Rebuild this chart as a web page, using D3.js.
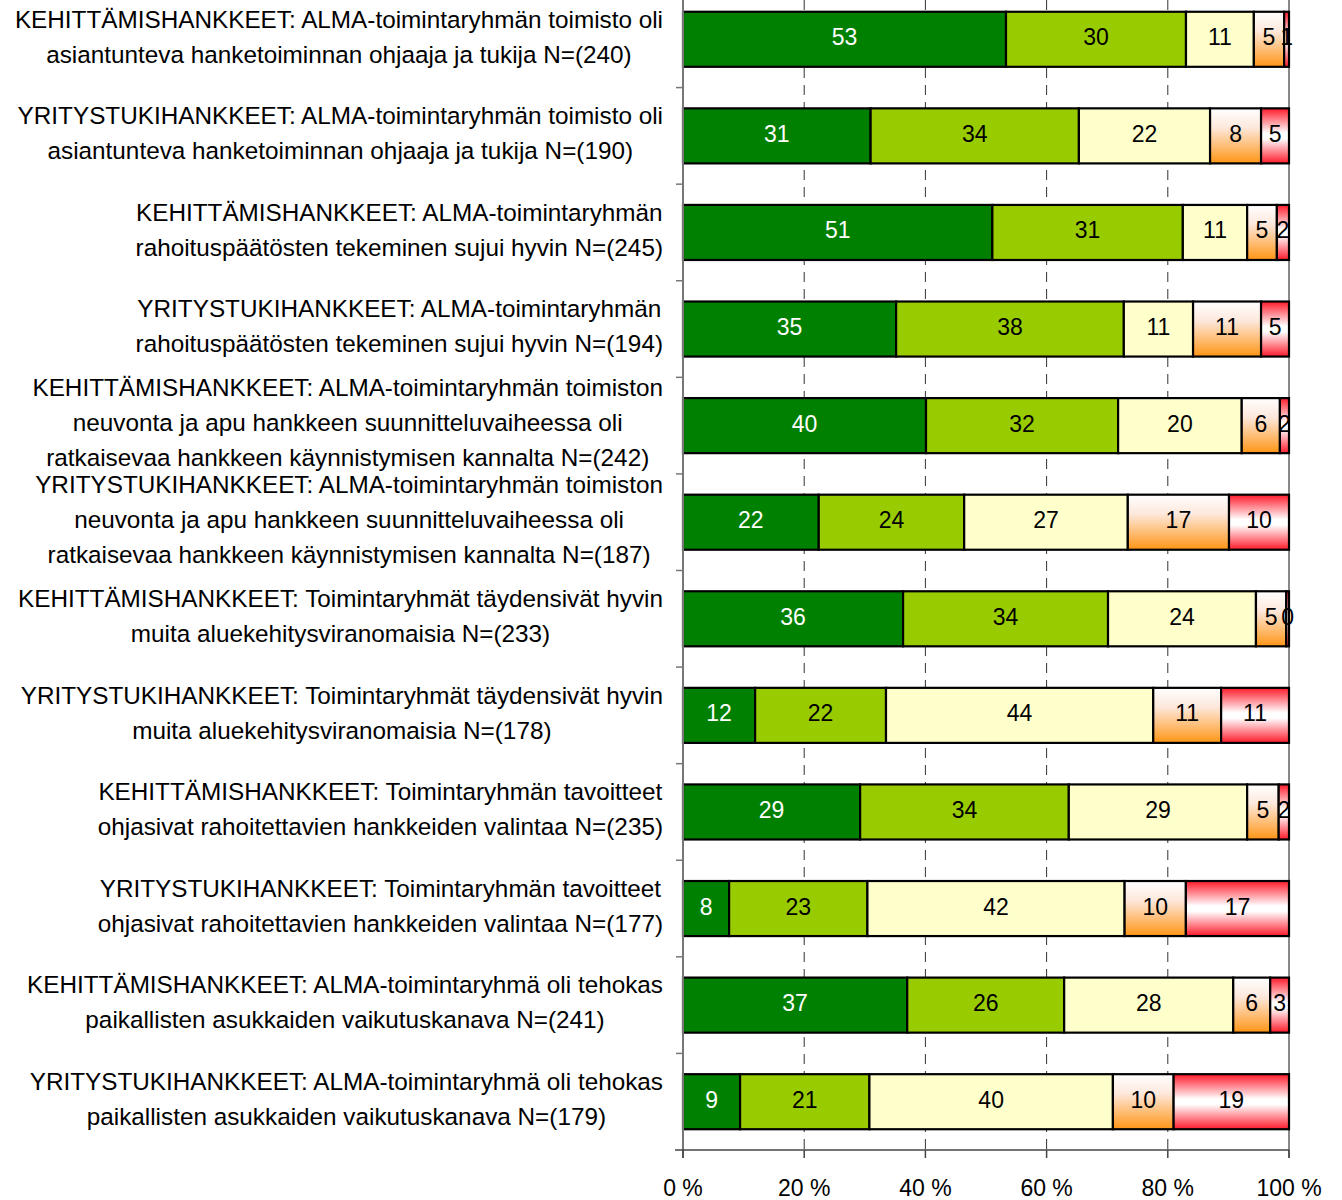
<!DOCTYPE html>
<html><head><meta charset="utf-8">
<script src="https://cdn.jsdelivr.net/npm/d3@7"></script>
<style>body{margin:0;background:#fff}svg{display:block}</style>
</head><body><svg id="c" width="1342" height="1200"></svg>
<script>
const categories = [
 "KEHITTÄMISHANKKEET: ALMA-toimintaryhmän toimisto oli\nasiantunteva hanketoiminnan ohjaaja ja tukija N=(240)",
 "YRITYSTUKIHANKKEET: ALMA-toimintaryhmän toimisto oli\nasiantunteva hanketoiminnan ohjaaja ja tukija N=(190)",
 "KEHITTÄMISHANKKEET: ALMA-toimintaryhmän\nrahoituspäätösten tekeminen sujui hyvin N=(245)",
 "YRITYSTUKIHANKKEET: ALMA-toimintaryhmän\nrahoituspäätösten tekeminen sujui hyvin N=(194)",
 "KEHITTÄMISHANKKEET: ALMA-toimintaryhmän toimiston\nneuvonta ja apu hankkeen suunnitteluvaiheessa oli\nratkaisevaa hankkeen käynnistymisen kannalta N=(242)",
 "YRITYSTUKIHANKKEET: ALMA-toimintaryhmän toimiston\nneuvonta ja apu hankkeen suunnitteluvaiheessa oli\nratkaisevaa hankkeen käynnistymisen kannalta N=(187)",
 "KEHITTÄMISHANKKEET: Toimintaryhmät täydensivät hyvin\nmuita aluekehitysviranomaisia N=(233)",
 "YRITYSTUKIHANKKEET: Toimintaryhmät täydensivät hyvin\nmuita aluekehitysviranomaisia N=(178)",
 "KEHITTÄMISHANKKEET: Toimintaryhmän tavoitteet\nohjasivat rahoitettavien hankkeiden valintaa N=(235)",
 "YRITYSTUKIHANKKEET: Toimintaryhmän tavoitteet\nohjasivat rahoitettavien hankkeiden valintaa N=(177)",
 "KEHITTÄMISHANKKEET: ALMA-toimintaryhmä oli tehokas\npaikallisten asukkaiden vaikutuskanava N=(241)",
 "YRITYSTUKIHANKKEET: ALMA-toimintaryhmä oli tehokas\npaikallisten asukkaiden vaikutuskanava N=(179)"
];
// five answer classes, strongly agree -> strongly disagree
const seriesNames = ["Täysin samaa mieltä","Jokseenkin samaa mieltä","Ei samaa eikä eri mieltä","Jokseenkin eri mieltä","Täysin eri mieltä"];
const s1 = [53.3, 30.9, 51.0, 35.1, 40.1, 22.4, 36.3, 11.9, 29.2, 7.6, 37.0, 9.4];
const s2 = [29.7, 34.3, 31.4, 37.5, 31.7, 24.0, 33.8, 21.6, 34.4, 22.8, 25.9, 21.3];
const s3 = [11.2, 21.6, 10.6, 11.4, 20.4, 27.0, 24.4, 44.1, 29.4, 42.4, 27.9, 40.1];
const s4 = [5.0, 8.4, 4.9, 11.2, 6.3, 16.7, 5.0, 11.2, 5.2, 10.1, 6.1, 10.0];
const s5 = [0.8, 4.6, 2.0, 4.6, 1.5, 9.9, 0.45, 11.2, 1.7, 17.0, 3.1, 19.0];
const xTicks = [0, 20, 40, 60, 80, 100];

const svg = d3.select("#c");
const defs = svg.append("defs");
const gO = defs.append("linearGradient").attr("id","gOrange").attr("x1",0).attr("y1",0).attr("x2",0).attr("y2",1);
gO.append("stop").attr("offset","0%").attr("stop-color","#ffffff");
gO.append("stop").attr("offset","35%").attr("stop-color","#fde8dc");
gO.append("stop").attr("offset","100%").attr("stop-color","#ff9515");
const gR = defs.append("linearGradient").attr("id","gRed").attr("x1",0).attr("y1",0).attr("x2",0).attr("y2",1);
gR.append("stop").attr("offset","0%").attr("stop-color","#ff1a2a");
gR.append("stop").attr("offset","45%").attr("stop-color","#ffffff");
gR.append("stop").attr("offset","55%").attr("stop-color","#ffffff");
gR.append("stop").attr("offset","100%").attr("stop-color","#ff1a2a");
const fills = ["#008000","#99cc00","#ffffcc","url(#gOrange)","url(#gRed)"];
const textFill = ["#ffffff","#000","#000","#000","#000"];

const x0 = 683, x1 = 1289, yTop = -9, yBot = 1150;
const x = d3.scaleLinear().domain([0,100]).range([x0,x1]);
const y = d3.scaleBand().domain(d3.range(categories.length)).range([yTop,yBot]).paddingInner(0.43).paddingOuter(0.215);

const series = [s1,s2,s3,s4,s5];
const rows = categories.map((c,i)=>{
  const vals = series.map(s=>s[i]);
  const tot = d3.sum(vals);
  let acc = 0;
  return vals.map((v,k)=>{ const p = v/tot*100; const r={i,k,v,a:acc,b:acc+p}; acc+=p; return r;});
});

// gridlines
svg.append("g").selectAll("line").data(xTicks.filter(t=>t>0&&t<100)).join("line")
  .attr("x1",d=>x(d)).attr("x2",d=>x(d)).attr("y1",0).attr("y2",yBot)
  .attr("stroke","#333").attr("stroke-width",1).attr("stroke-dasharray","10,7");
svg.append("line").attr("x1",x(100)).attr("x2",x(100)).attr("y1",0).attr("y2",yBot+8)
  .attr("stroke","#888").attr("stroke-width",2);

// bars
const g = svg.append("g");
rows.forEach(r=>{
  g.selectAll(null).data(r).join("rect")
    .attr("x",d=>x(d.a)).attr("width",d=>x(d.b)-x(d.a))
    .attr("y",d=>y(d.i)).attr("height",y.bandwidth())
    .attr("fill",d=>fills[d.k]).attr("stroke","#000").attr("stroke-width",2.2);
});
rows.forEach(r=>{
  g.selectAll(null).data(r).join("text")
    .attr("x",d=>(x(d.a)+x(d.b))/2).attr("y",d=>y(d.i)+y.bandwidth()/2)
    .attr("dy","0.26em").attr("text-anchor","middle")
    .attr("font-family","Liberation Sans, Arial, sans-serif").attr("font-size",23)
    .attr("fill",d=>textFill[d.k]).text(d=>Math.round(d.v));
});

// y axis
svg.append("line").attr("x1",x0).attr("x2",x0).attr("y1",0).attr("y2",yBot+8).attr("stroke","#777").attr("stroke-width",2);
svg.append("g").selectAll("line").data(d3.range(1,categories.length)).join("line")
  .attr("x1",x0-7).attr("x2",x0).attr("y1",d=>y(d)-y.step()*y.paddingInner()/2).attr("y2",d=>y(d)-y.step()*y.paddingInner()/2)
  .attr("stroke","#777").attr("stroke-width",1.5);
// x axis
svg.append("line").attr("x1",x0-8).attr("x2",x1).attr("y1",yBot).attr("y2",yBot).attr("stroke","#444").attr("stroke-width",1.5);
svg.append("g").selectAll("line").data(xTicks).join("line")
  .attr("x1",d=>x(d)).attr("x2",d=>x(d)).attr("y1",yBot).attr("y2",yBot+8).attr("stroke","#444").attr("stroke-width",1.5);
svg.append("g").selectAll("text").data(xTicks).join("text")
  .attr("x",d=>x(d)).attr("y",1196).attr("text-anchor","middle")
  .attr("font-family","Liberation Sans, Arial, sans-serif").attr("font-size",23).attr("fill","#000")
  .text(d=>d+" %");

// category labels: block right aligned at 663, lines centered within block
const lg = svg.append("g").attr("font-family","Liberation Sans, Arial, sans-serif").attr("font-size",24.3).attr("fill","#000");
categories.forEach((c,i)=>{
  const lines = c.split("\n");
  const lh = 35;
  const cy = y(i)+y.bandwidth()/2 - 1.5;
  const ts = lines.map((l,j)=>lg.append("text").attr("y",cy+(j-(lines.length-1)/2)*lh).attr("dy","0.3em").attr("text-anchor","middle").text(l));
  const w = d3.max(ts,t=>t.node().getComputedTextLength());
  ts.forEach(t=>t.attr("x",663-w/2));
});
</script></body></html>
